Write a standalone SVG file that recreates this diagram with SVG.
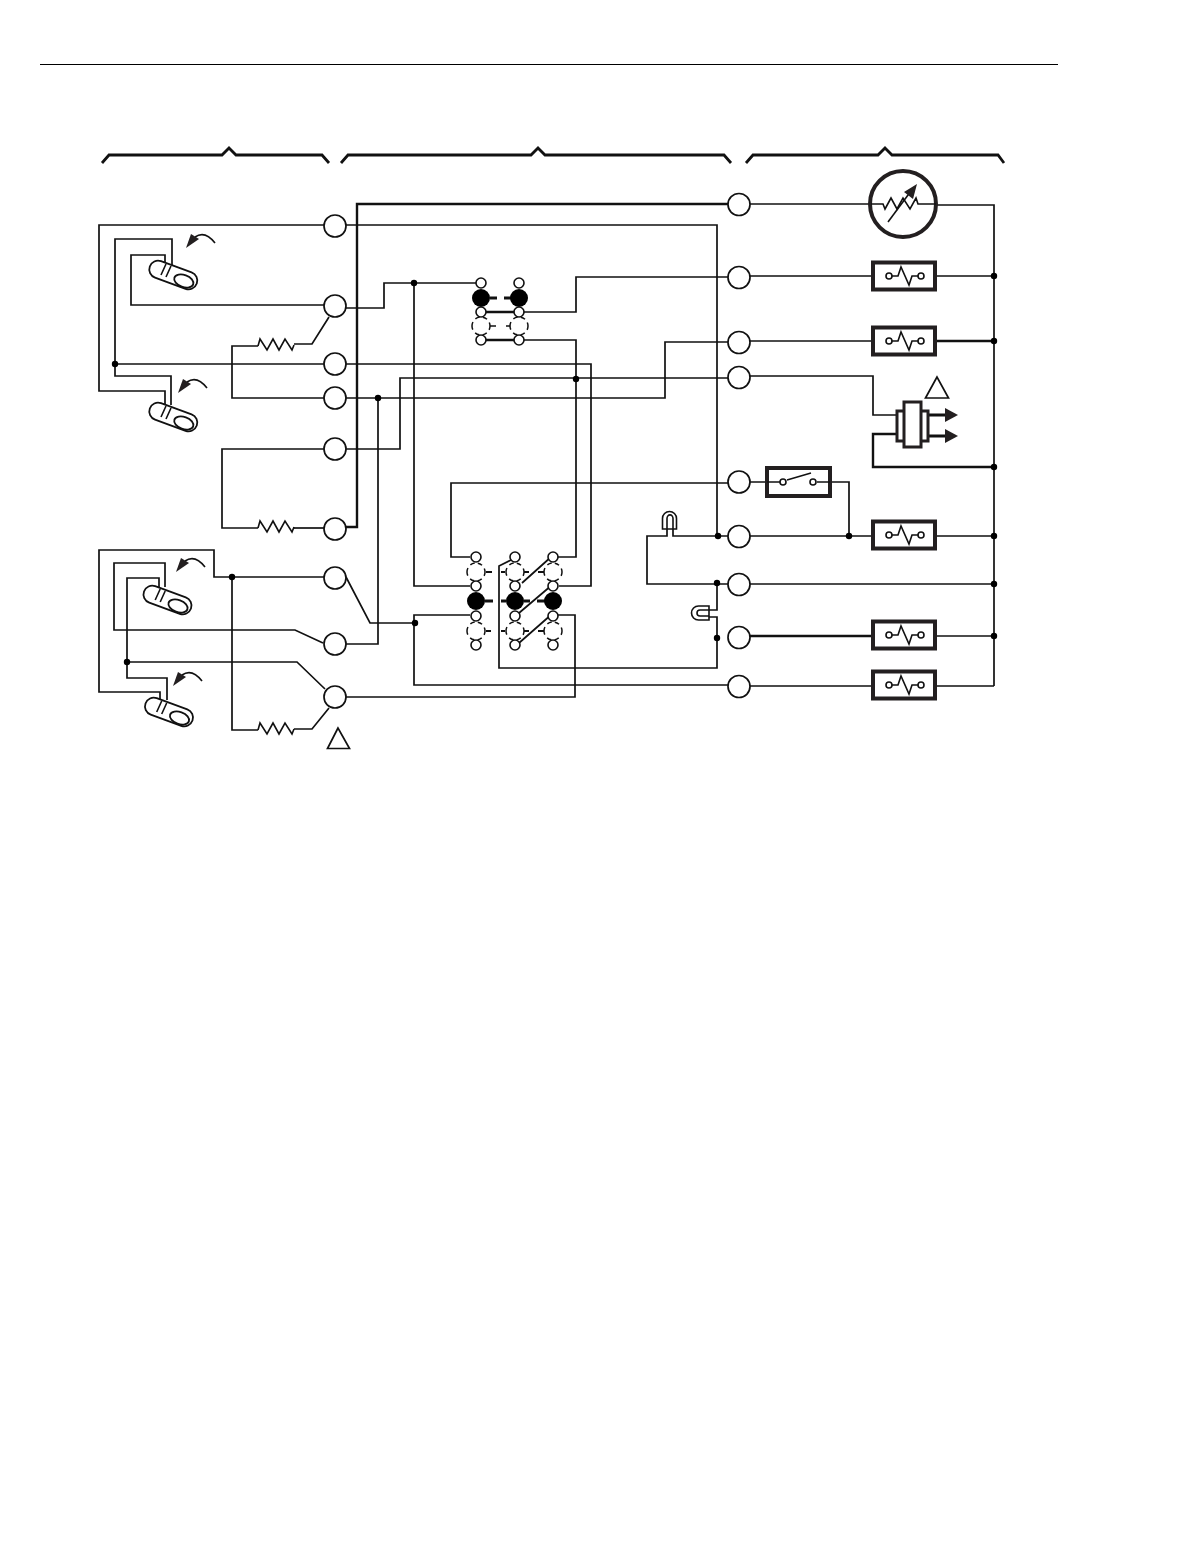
<svg xmlns="http://www.w3.org/2000/svg" xmlns:xlink="http://www.w3.org/1999/xlink" width="1198" height="1560" viewBox="0 0 1198 1560">
<style>
.w{fill:none;stroke:#111;stroke-width:1.7;stroke-linejoin:miter}
.t{fill:none;stroke:#111;stroke-width:2.4}
.term{fill:#fff;stroke:#111;stroke-width:1.7}
.dot{fill:#000;stroke:none}
.box{fill:#fff;stroke:#231f20;stroke-width:4}
.sm{fill:#fff;stroke:#111;stroke-width:1.6}
.in{fill:none;stroke:#111;stroke-width:1.6}
.dash{fill:#fff;stroke:#111;stroke-width:1.5;stroke-dasharray:7.85 3.93 4.71 3.14 4.71 3.93;stroke-dashoffset:3.93}
.head{fill:#231f20;stroke:none}
.stub{stroke:#111;stroke-width:2.8;fill:none}
</style>
<defs>
<g id="sw">
<rect x="-25" y="-8.75" width="50" height="17.5" rx="8.75" transform="rotate(20)" class="sm" style="stroke-width:1.8"/>
<ellipse cx="10.500" cy="6" rx="10" ry="6" transform="rotate(20 10.500 6)" class="sm" style="stroke-width:1.8"/>
<path d="M-7.3-11L-12.3 0M-2.3-9L-7.3 2" class="in"/>
</g>
<g id="ar">
<path d="M9-11Q19-18 29-5" class="in"/>
<path d="M0 0L5-14 13-9Z" class="head"/>
</g>
<g id="fb">
<rect x="-30" y="-13.500" width="62" height="27" class="box"/>
<path d="M-12 0H-5L-2-9 6 9 9 0H15" class="in"/>
<circle cx="-14" r="3" class="sm"/><circle cx="18" r="3" class="sm"/>
</g>
<path id="res" d="M0 0L2-7 9 4 15-7 21 4 27-7 34 4 36-1" class="in"/>
</defs>

<g id="connectors">
<path d="M40 64.500H1058" stroke="#000" stroke-width="1.1" fill="none"/>
<path class="t" style="stroke-width:2.8" d="M102 163L109 155H222L229 148 236 155H322L329 163"/>
<path class="t" style="stroke-width:2.8" d="M341 163L348 155H531L538 148 545 155H724L731 163"/>
<path class="t" style="stroke-width:2.8" d="M746 163L753 155H878L885 148 892 155H998L1004 163"/>

<path class="t" d="M346 527H357V204H728"/>
<path class="w" d="M324 225H99V391H165V405"/>
<path class="w" d="M172 265V239H115V376H171V405"/>
<path class="w" d="M165 265V255H131V305H324"/>
<path class="w" d="M115 364H324"/>
<path class="w" d="M329 317L312 344H294"/>
<path class="w" d="M258 346H232V398H324"/>
<path class="w" d="M324 449H222V528H258"/>
<path class="w" d="M294 528H324"/>
<path class="w" d="M165 587V563H114V630H295L323 643"/>
<path class="w" d="M159 588V578H127V678H167V700"/>
<path class="w" d="M160 699V692H99V550H214V577H324"/>
<path class="w" d="M127 662H297L325 689"/>
<path class="w" d="M232 577V730H258"/>
<path class="w" d="M294 729H312L329 708"/>
<path class="w" d="M346 577L370 623H414"/>
<path class="w" d="M346 644H378V398"/>

<path class="w" d="M346 225H717V536"/>
<path class="w" d="M346 308H384V283H476"/>
<path class="w" d="M414 283V586H470"/>
<path class="w" d="M346 364H591V586H559"/>
<path class="w" d="M346 398H665V342H728"/>
<path class="w" d="M346 449H400V378H728"/>
<path class="w" d="M519 312H576V277H728"/>
<path class="w" d="M519 340H576V557H558"/>
<path class="w" d="M346 697H575V615H558"/>
<path class="w" d="M470 615H414V685H728"/>
<path class="w" d="M728 483H451V557H470"/>
<path class="w" d="M511 560L499 566V668H717V617H709"/>
<path class="w" d="M709 610H717V584"/>
<path class="w" d="M667 529V536H647V584H728"/>
<path class="w" d="M673 529V536H728"/>

<path class="w" d="M750 204H883"/>
<path class="w" d="M918 205H994V686"/>
<path class="w" d="M750 276H885M924 276H994"/>
<path class="w" d="M750 341H885"/>
<path class="t" d="M924 341H994"/>
<path class="w" d="M750 376H873V415H896"/>
<path class="t" d="M896 434H873V467H994"/>
<path class="t" style="stroke-width:3" d="M928 415H945M928 436H945"/>
<path class="w" d="M750 482H780M817 482H849V536"/>
<path class="w" d="M750 536H885M924 536H994"/>
<path class="w" d="M750 584H994"/>
<path class="t" d="M750 636H885"/>
<path class="w" d="M924 636H994"/>
<path class="w" d="M750 686H885M924 686H994"/>
<path class="t" d="M481 312H519M481 340H519"/>
<path class="w" d="M522 583L551 557M519 613L552 585M519 643L552 614"/>
</g>

<g id="junctions">
<circle class="dot" cx="115" cy="364" r="3.200"/>
<circle class="dot" cx="414" cy="283" r="3.200"/>
<circle class="dot" cx="378" cy="398" r="3.200"/>
<circle class="dot" cx="576" cy="379" r="3.200"/>
<circle class="dot" cx="232" cy="577" r="3.200"/>
<circle class="dot" cx="127" cy="662" r="3.200"/>
<circle class="dot" cx="415" cy="623" r="3.200"/>
<circle class="dot" cx="718" cy="536" r="3.200"/>
<circle class="dot" cx="717" cy="583" r="3.200"/>
<circle class="dot" cx="717" cy="638" r="3.200"/>
<circle class="dot" cx="849" cy="536" r="3.200"/>
<circle class="dot" cx="994" cy="276" r="3.200"/>
<circle class="dot" cx="994" cy="341" r="3.200"/>
<circle class="dot" cx="994" cy="467" r="3.200"/>
<circle class="dot" cx="994" cy="536" r="3.200"/>
<circle class="dot" cx="994" cy="584" r="3.200"/>
<circle class="dot" cx="994" cy="636" r="3.200"/>
</g>

<g id="terminals-left">
<circle class="term" cx="335" cy="226" r="11"/>
<circle class="term" cx="335" cy="306" r="11"/>
<circle class="term" cx="335" cy="364" r="11"/>
<circle class="term" cx="335" cy="398" r="11"/>
<circle class="term" cx="335" cy="449" r="11"/>
<circle class="term" cx="335" cy="529" r="11"/>
<circle class="term" cx="335" cy="578" r="11"/>
<circle class="term" cx="335" cy="644" r="11"/>
<circle class="term" cx="335" cy="697" r="11"/>
</g>
<g id="terminals-right">
<circle class="term" cx="739" cy="204.500" r="11"/>
<circle class="term" cx="739" cy="277.500" r="11"/>
<circle class="term" cx="739" cy="342.500" r="11"/>
<circle class="term" cx="739" cy="377.500" r="11"/>
<circle class="term" cx="739" cy="482" r="11"/>
<circle class="term" cx="739" cy="536.500" r="11"/>
<circle class="term" cx="739" cy="584.500" r="11"/>
<circle class="term" cx="739" cy="637.500" r="11"/>
<circle class="term" cx="739" cy="686.500" r="11"/>
</g>

<g id="resistors">
<use xlink:href="#res" href="#res" x="258" y="346"/>
<use xlink:href="#res" href="#res" x="258" y="528"/>
<use xlink:href="#res" href="#res" x="258" y="730"/>
</g>

<g id="switch-1"><use xlink:href="#sw" href="#sw" x="173.300" y="275"/><use xlink:href="#ar" href="#ar" x="186" y="248"/></g>
<g id="switch-2"><use xlink:href="#sw" href="#sw" x="173.300" y="417"/><use xlink:href="#ar" href="#ar" x="178" y="393"/></g>
<g id="switch-3"><use xlink:href="#sw" href="#sw" x="167.500" y="600"/><use xlink:href="#ar" href="#ar" x="176" y="572"/></g>
<g id="switch-4"><use xlink:href="#sw" href="#sw" x="169" y="712"/><use xlink:href="#ar" href="#ar" x="173" y="686"/></g>

<g id="triangle-left"><path d="M338 728L327.500 748.500H349.500Z" fill="#fff" stroke="#111" stroke-width="1.7"/></g>
<g id="triangle-right"><path d="M937 377L925.500 398H948.500Z" fill="#fff" stroke="#111" stroke-width="1.7"/></g>

<g id="contacts-top">
<path class="stub" d="M490 298H497M504 298H511"/>
<path class="in" d="M490 326H496M506 326H511"/>
<circle class="dash" cx="481" cy="326" r="9"/><circle class="dash" cx="519" cy="326" r="9"/>
<circle class="dot" cx="481" cy="298" r="9"/><circle class="dot" cx="519" cy="298" r="9"/>
<circle class="sm" cx="481" cy="283" r="5"/><circle class="sm" cx="519" cy="283" r="5"/>
<circle class="sm" cx="481" cy="312" r="5"/><circle class="sm" cx="519" cy="312" r="5"/>
<circle class="sm" cx="481" cy="340" r="5"/><circle class="sm" cx="519" cy="340" r="5"/>
</g>

<g id="contacts-bottom">
<path class="stub" d="M485 601H493M501 601H506M524 601H530M537 601H545"/>
<path class="stub" style="stroke-width:1.8" d="M486 572H492M501 572H505M524 572H529M538 572H544M486 631H491M501 631H505M524 631H529M538 631H544"/>
<circle class="dash" cx="476" cy="572" r="9"/><circle class="dash" cx="515" cy="572" r="9"/><circle class="dash" cx="553" cy="572" r="9"/>
<circle class="dash" cx="476" cy="631" r="9"/><circle class="dash" cx="515" cy="631" r="9"/><circle class="dash" cx="553" cy="631" r="9"/>
<circle class="dot" cx="476" cy="601" r="9"/><circle class="dot" cx="515" cy="601" r="9"/><circle class="dot" cx="553" cy="601" r="9"/>
<circle class="sm" cx="476" cy="557" r="5"/><circle class="sm" cx="515" cy="557" r="5"/><circle class="sm" cx="553" cy="557" r="5"/>
<circle class="sm" cx="476" cy="586" r="5"/><circle class="sm" cx="515" cy="586" r="5"/><circle class="sm" cx="553" cy="586" r="5"/>
<circle class="sm" cx="476" cy="616" r="5"/><circle class="sm" cx="515" cy="616" r="5"/><circle class="sm" cx="553" cy="616" r="5"/>
<circle class="sm" cx="476" cy="645" r="5"/><circle class="sm" cx="515" cy="645" r="5"/>
<circle class="sm" cx="553" cy="645" r="5"/>
</g>

<g id="lamp-top">
<path class="sm" d="M662.500 529V518.500A7 7 0 0 1 676.500 518.500V529Z"/>
<path class="in" d="M667 529V518.500A2.500 3 0 0 1 673 518.500V529"/>
</g>
<g id="lamp-side">
<path class="sm" d="M709 606H698.500A7 7 0 0 0 698.500 620H709Z"/>
<path class="in" d="M709 610H700A3 3 0 0 0 700 616H709"/>
</g>

<g id="sensor">
<circle cx="903" cy="204" r="33" class="box"/>
<path class="in" d="M871 204H883L885 209 891 198 897 209 903 198 910 209 916 198 918 204H936"/>
<path class="in" d="M888 222L911 191"/>
<path class="head" d="M917 184L913 199 904 192Z"/>
</g>
<g id="fb-1"><use xlink:href="#fb" href="#fb" x="903" y="276"/></g>
<g id="fb-2"><use xlink:href="#fb" href="#fb" x="903" y="341"/></g>
<g id="fb-3"><use xlink:href="#fb" href="#fb" x="903" y="535"/></g>
<g id="fb-4"><use xlink:href="#fb" href="#fb" x="903" y="635"/></g>
<g id="fb-5"><use xlink:href="#fb" href="#fb" x="903" y="685"/></g>

<g id="door-switch">
<rect x="767" y="468" width="63" height="28" class="box"/>
<path class="in" d="M767 482H780M787 480L811 473M817 482H830"/>
<circle class="sm" cx="783" cy="482" r="3"/><circle class="sm" cx="813" cy="482" r="3"/>
</g>

<g id="relay">
<rect x="897" y="411" width="31" height="30" class="box" style="stroke-width:3"/>
<rect x="904" y="402" width="17" height="45" class="box" style="stroke-width:3"/>
<path class="head" d="M958 415L945 408V422Z"/>
<path class="head" d="M958 436L945 429V443Z"/>
</g>
</svg>
